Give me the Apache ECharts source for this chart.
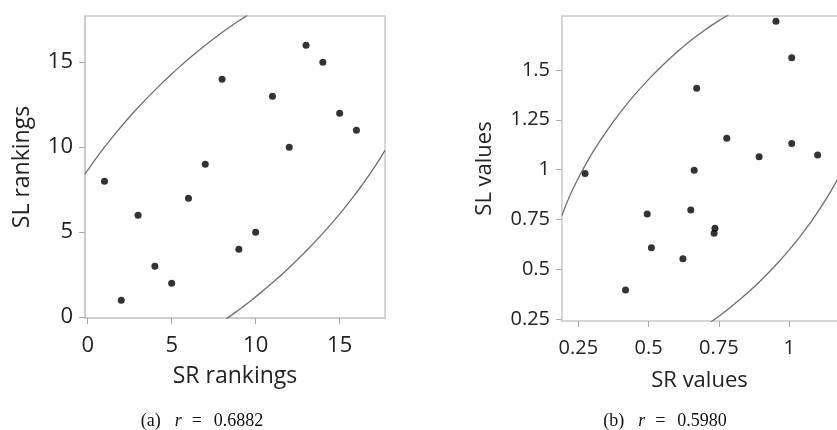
<!DOCTYPE html>
<html>
<head>
<meta charset="utf-8">
<script src="https://cdn.jsdelivr.net/npm/echarts@6/dist/echarts.min.js"></script>
<style>
html,body{margin:0;padding:0;background:#fff;}
#c{width:837px;height:430px;}
</style>
</head>
<body>
<div id="c"></div>
<script>
// (a) rankings
const srRankings = [1, 2, 3, 4, 5, 6, 7, 8, 9, 10, 11, 12, 13, 14, 15, 16];
const slRankings = [8, 1, 6, 3, 2, 7, 9, 14, 4, 5, 13, 10, 16, 15, 12, 11];
// density ellipse arcs
const rankEllipseUpper = [[-0.16, 8.414], [0, 8.646], [0.5, 9.342], [1, 9.999], [1.5, 10.624], [2, 11.219], [2.5, 11.789], [3, 12.334], [3.5, 12.858], [4, 13.36], [4.5, 13.844], [5, 14.309], [5.5, 14.756], [6, 15.187], [6.5, 15.601], [7, 15.999], [7.5, 16.382], [8, 16.749], [8.5, 17.101], [9, 17.437], [9.5, 17.758]];
const rankEllipseLower = [[8.25, -0.101], [8.75, 0.251], [9.25, 0.618], [9.75, 1.001], [10.25, 1.399], [10.75, 1.813], [11.25, 2.244], [11.75, 2.691], [12.25, 3.156], [12.75, 3.64], [13.25, 4.142], [13.75, 4.666], [14.25, 5.211], [14.75, 5.781], [15.25, 6.376], [15.75, 7.001], [16.25, 7.658], [16.75, 8.354], [16.91, 8.586], [17.45, 9.407], [17.7, 9.811]];
const rankTicks = [0, 5, 10, 15];

// (b) values
const srValues = [0.953, 1.009, 0.671, 0.778, 1.009, 0.893, 1.101, 0.662, 0.274, 0.495, 0.65, 0.51, 0.622, 0.418, 0.736, 0.733];
const slValues = [1.745, 1.561, 1.408, 1.157, 1.131, 1.064, 1.073, 0.997, 0.981, 0.777, 0.797, 0.608, 0.553, 0.395, 0.705, 0.68];
// density ellipse arcs
const valEllipseUpper = [[0.192, 0.771], [0.2, 0.801], [0.21, 0.836], [0.23, 0.9], [0.26, 0.984], [0.3, 1.084], [0.35, 1.192], [0.4, 1.288], [0.45, 1.375], [0.5, 1.453], [0.55, 1.524], [0.6, 1.589], [0.65, 1.648], [0.7, 1.701], [0.75, 1.748], [0.8, 1.79]];
const valEllipseLower = [[0.7, 0.216], [0.72, 0.234], [0.75, 0.264], [0.8, 0.319], [0.85, 0.379], [0.9, 0.445], [0.95, 0.517], [1.0, 0.597], [1.05, 0.685], [1.1, 0.784], [1.15, 0.896], [1.17, 0.946], [1.19, 0.999]];
const valTicks = [0.25, 0.5, 0.75, 1, 1.25, 1.5];

const captions = ['(a)', '(b)'];
const rValues = ['0.6882', '0.5980'];

const sans = '"Open Sans", "Noto Sans", sans-serif';
const serif = '"Liberation Serif", "DejaVu Serif", serif';
const tickColor = '#222';
const axisGray = '#c9c9c9';

function xAxisCfg(idx, min, max, name, ticks, tickSize, nameSize, gap) {
  return {
    type: 'value', gridIndex: idx, min: min, max: max, position: 'bottom',
    name: name, nameLocation: 'middle', nameGap: gap,
    nameTextStyle: {fontFamily: sans, fontSize: nameSize, color: '#222'},
    axisLine: {show: true, onZero: false, lineStyle: {color: axisGray, width: 1.5}},
    axisTick: {show: true, length: 6, customValues: ticks, lineStyle: {color: '#aaa'}},
    axisLabel: {customValues: ticks, fontFamily: sans, fontSize: tickSize, color: tickColor, margin: 17},
    splitLine: {show: false}
  };
}
function yAxisCfg(idx, min, max, name, ticks, gap, tickSize, nameSize) {
  return {
    type: 'value', gridIndex: idx, min: min, max: max,
    name: name, nameLocation: 'middle', nameGap: gap,
    nameTextStyle: {fontFamily: sans, fontSize: nameSize, color: '#222'},
    axisLine: {show: true, onZero: false, lineStyle: {color: axisGray, width: 1.5}},
    axisTick: {show: true, length: 6, customValues: ticks, lineStyle: {color: '#aaa'}},
    axisLabel: {customValues: ticks, fontFamily: sans, fontSize: tickSize, color: tickColor, margin: 12},
    splitLine: {show: false}
  };
}

function pairs(xs, ys) { return xs.map((x, i) => [x, ys[i]]); }

const lineStyle = {color: '#6e6e6e', width: 1.3};

function caption(i, center) {
  const base = {fontFamily: serif, fontSize: 18, fontWeight: 'normal', color: '#111'};
  return {
    text: '{a|' + captions[i] + '}{i|r}{e|=}{n|' + rValues[i] + '}',
    left: center, top: 407, textAlign: 'center',
    textStyle: {
      fontWeight: 'normal', fontFamily: serif, fontSize: 18,
      rich: {
        a: Object.assign({}, base, {padding: [0, 14, 0, 0]}),
        i: Object.assign({}, base, {fontStyle: 'italic', padding: [0, 10, 0, 0]}),
        e: Object.assign({}, base, {padding: [0, 12, 0, 0]}),
        n: Object.assign({}, base)
      }
    }
  };
}

const chart = echarts.init(document.getElementById('c'), null, {renderer: 'canvas'});
chart.setOption({
  backgroundColor: '#fff',
  animation: false,
  title: [caption(0, 197), caption(1, 660)],
  grid: [
    {left: 85, top: 16, width: 300, height: 302, show: true, borderColor: axisGray, borderWidth: 1.5, backgroundColor: 'transparent'},
    {left: 562, top: 16, width: 275, height: 305, show: false}
  ],
  xAxis: [
    xAxisCfg(0, -0.16, 17.7, 'SR rankings', rankTicks, 22, 23, 47),
    xAxisCfg(1, 0.192, 1.17, 'SR values', valTicks, 20, 22, 49),
    {type: 'value', gridIndex: 1, min: 0.192, max: 1.17, position: 'top',
     axisLine: {show: true, onZero: false, lineStyle: {color: axisGray, width: 1.5}},
     axisTick: {show: false}, axisLabel: {show: false}, splitLine: {show: false}}
  ],
  yAxis: [
    yAxisCfg(0, -0.05, 17.72, 'SL rankings', rankTicks, 51, 22, 23),
    yAxisCfg(1, 0.24, 1.771, 'SL values', valTicks, 66, 20, 22)
  ],
  series: [
    {type: 'line', xAxisIndex: 0, yAxisIndex: 0, data: rankEllipseUpper, smooth: 0.3, symbol: 'none', lineStyle: lineStyle, clip: true},
    {type: 'line', xAxisIndex: 0, yAxisIndex: 0, data: rankEllipseLower, smooth: 0.3, symbol: 'none', lineStyle: lineStyle, clip: true},
    {type: 'scatter', xAxisIndex: 0, yAxisIndex: 0, data: pairs(srRankings, slRankings), symbolSize: 7, itemStyle: {color: '#000'}},
    {type: 'line', xAxisIndex: 1, yAxisIndex: 1, data: valEllipseUpper, smooth: 0.3, symbol: 'none', lineStyle: lineStyle, clip: true},
    {type: 'line', xAxisIndex: 1, yAxisIndex: 1, data: valEllipseLower, smooth: 0.3, symbol: 'none', lineStyle: lineStyle, clip: true},
    {type: 'scatter', xAxisIndex: 1, yAxisIndex: 1, data: pairs(srValues, slValues), symbolSize: 7, itemStyle: {color: '#000'}}
  ]
});
</script>
</body>
</html>
